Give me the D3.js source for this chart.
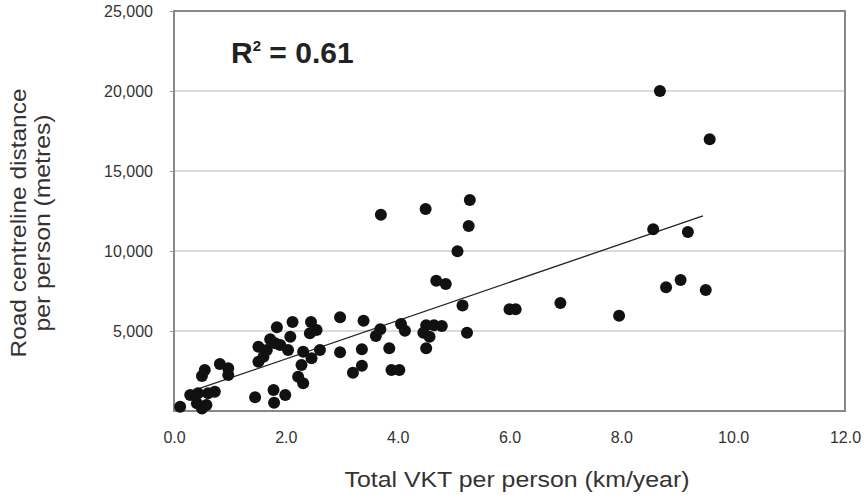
<!DOCTYPE html>
<html>
<head>
<meta charset="utf-8">
<script src="https://cdn.jsdelivr.net/npm/d3@7"></script>
<style>
  body { margin: 0; background: #fff; }
  text { font-family: "Liberation Sans", Arial, sans-serif; }
</style>
</head>
<body>
<div id="chart"></div>
<script>
// values
var vkt = [8.69, 9.58, 8.57, 9.19, 8.80, 9.06, 9.51, 7.96, 6.91,
  3.70, 4.50, 5.29, 5.27, 5.07, 4.69, 4.86, 5.16, 6.00, 6.11, 5.24,
  4.51, 4.65, 4.79, 4.46, 4.57, 4.51, 4.06, 4.13, 3.69, 3.61, 3.39,
  2.97, 3.36, 3.85, 3.36, 3.20, 3.89, 4.03, 2.97,
  2.12, 1.84, 2.45, 2.55, 2.43, 2.08, 1.72, 1.51, 1.90, 2.04, 1.66,
  1.51, 1.60, 2.31, 2.46, 2.61, 2.28, 2.22, 2.31,
  0.55, 0.50, 0.82, 0.97, 0.97, 1.45, 1.78, 1.99, 1.79,
  0.29, 0.43, 0.61, 0.73, 0.11, 0.41, 0.50, 0.58, 1.81];
var road = [20000, 16980, 11360, 11190, 7730, 8190, 7560, 5960, 6750,
  12270, 12625, 13190, 11560, 9980, 8140, 7940, 6600, 6360, 6360, 4890,
  5360, 5360, 5310, 4890, 4640, 3920, 5440, 5020, 5110, 4690, 5640,
  5860, 3860, 3920, 2830, 2390, 2560, 2560, 3670,
  5560, 5230, 5560, 5060, 4860, 4640, 4480, 4020, 4125, 3810, 3810,
  3080, 3390, 3710, 3290, 3810, 2875, 2145, 1730,
  2560, 2190, 2940, 2670, 2250, 860, 1310, 1000, 520,
  1000, 1110, 1110, 1210, 270, 480, 150, 375, 4230];
var trendX = [0.3, 9.46];
var trendY = [1220, 12190];
var xTicks = [0, 2, 4, 6, 8, 10, 12];
var yTicks = [5000, 10000, 15000, 20000, 25000];

var width = 867, height = 504;
var margin = {left: 174, right: 22, top: 11, bottom: 93};

var svg = d3.select("#chart").append("svg")
  .attr("width", width)
  .attr("height", height);

var x = d3.scaleLinear().domain([0, 12]).range([margin.left, width - margin.right]);
var y = d3.scaleLinear().domain([0, 25000]).range([height - margin.bottom, margin.top]);

// gridlines
svg.append("g")
  .selectAll("line")
  .data(yTicks.slice(0, -1))
  .enter().append("line")
    .attr("x1", x(0)).attr("x2", x(12))
    .attr("y1", function(d) { return y(d); })
    .attr("y2", function(d) { return y(d); })
    .attr("stroke", "#cfcfcf")
    .attr("stroke-width", 1.5);

// y axis
var yAxis = svg.append("g")
  .attr("transform", "translate(" + x(0) + ",0)")
  .call(d3.axisLeft(y).tickValues(yTicks).tickSize(4).tickPadding(17)
    .tickFormat(d3.format(",")));
yAxis.select(".domain").remove();
yAxis.selectAll("line").attr("stroke", "#999");
yAxis.selectAll("text").attr("font-size", 16).attr("fill", "#333");

// x axis
var xAxis = svg.append("g")
  .attr("transform", "translate(0," + y(0) + ")")
  .call(d3.axisBottom(x).tickValues(xTicks).tickSize(0).tickPadding(21)
    .tickFormat(d3.format(".1f")));
xAxis.select(".domain").remove();
xAxis.selectAll("text").attr("font-size", 16).attr("fill", "#333");

// plot frame
svg.append("rect")
  .attr("x", x(0)).attr("y", y(25000))
  .attr("width", x(12) - x(0))
  .attr("height", y(0) - y(25000))
  .attr("fill", "none")
  .attr("stroke", "#888")
  .attr("stroke-width", 2);

// trend line
svg.append("line")
  .attr("x1", x(trendX[0])).attr("y1", y(trendY[0]))
  .attr("x2", x(trendX[1])).attr("y2", y(trendY[1]))
  .attr("stroke", "#222")
  .attr("stroke-width", 1.3);

// points
svg.append("g")
  .selectAll("circle")
  .data(d3.range(vkt.length))
  .enter().append("circle")
    .attr("cx", function(i) { return x(vkt[i]); })
    .attr("cy", function(i) { return y(road[i]); })
    .attr("r", 6)
    .attr("fill", "#111");

// R squared label
var r2 = svg.append("text")
  .attr("x", 231).attr("y", 63)
  .attr("font-size", 30)
  .attr("font-weight", "bold")
  .attr("fill", "#222");
r2.append("tspan").text("R");
r2.append("tspan").attr("font-size", 15).attr("dy", -12).text("2");
r2.append("tspan").attr("dy", 12).text(" = 0.61");

// axis titles
svg.append("text")
  .attr("x", 517).attr("y", 487)
  .attr("text-anchor", "middle")
  .attr("font-size", 22)
  .attr("textLength", 345)
  .attr("lengthAdjust", "spacingAndGlyphs")
  .attr("fill", "#333")
  .text("Total VKT per person (km/year)");

var yt = svg.append("g")
  .attr("transform", "translate(26,223) rotate(-90)");
yt.append("text")
  .attr("text-anchor", "middle")
  .attr("font-size", 22)
  .attr("textLength", 269)
  .attr("lengthAdjust", "spacingAndGlyphs")
  .attr("fill", "#333")
  .text("Road centreline distance");
yt.append("text")
  .attr("y", 24)
  .attr("text-anchor", "middle")
  .attr("font-size", 22)
  .attr("textLength", 217)
  .attr("lengthAdjust", "spacingAndGlyphs")
  .attr("fill", "#333")
  .text("per person (metres)");
</script>
</body>
</html>
